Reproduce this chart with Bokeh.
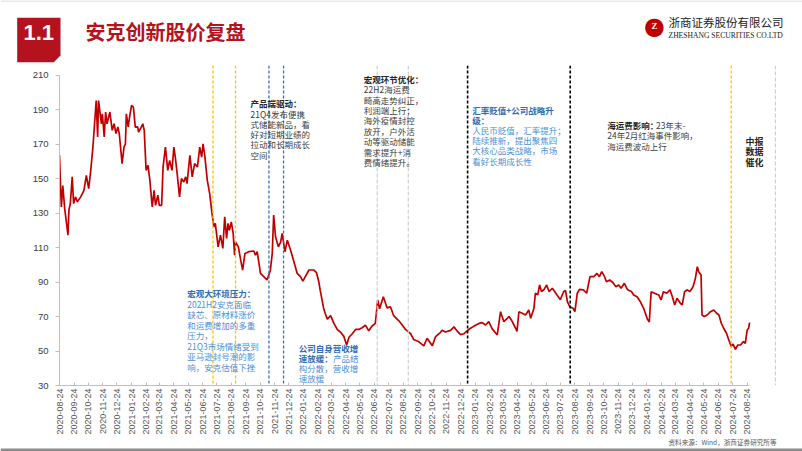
import math
import pandas as pd
from bokeh.plotting import figure
from bokeh.layouts import column, row
from bokeh.models import Span, Label, FixedTicker, DatetimeTickFormatter, Range1d
from bokeh.embed import file_html
from bokeh.resources import INLINE

# ---------------- data ----------------
dates = [
    "2020-08-24", "2020-08-26", "2020-08-28", "2020-08-31", "2020-09-04", "2020-09-11", "2020-09-13",
    "2020-09-16", "2020-09-20", "2020-09-23", "2020-09-27", "2020-10-01", "2020-10-08", "2020-10-15",
    "2020-10-20", "2020-10-25", "2020-10-29", "2020-11-03", "2020-11-06", "2020-11-10", "2020-11-13",
    "2020-11-15", "2020-11-21", "2020-11-23", "2020-11-27", "2020-11-30", "2020-12-03", "2020-12-09",
    "2020-12-14", "2020-12-18", "2020-12-22", "2020-12-26", "2020-12-29", "2021-01-04", "2021-01-08",
    "2021-01-11", "2021-01-13", "2021-01-17", "2021-01-20", "2021-01-24", "2021-01-28", "2021-02-01",
    "2021-02-06", "2021-02-08", "2021-02-12", "2021-02-17", "2021-02-20", "2021-02-24", "2021-02-28",
    "2021-03-04", "2021-03-09", "2021-03-13", "2021-03-16", "2021-03-21", "2021-03-24", "2021-03-29",
    "2021-04-01", "2021-04-06", "2021-04-11", "2021-04-15", "2021-04-20", "2021-04-24", "2021-04-27",
    "2021-05-01", "2021-05-06", "2021-05-10", "2021-05-15", "2021-05-19", "2021-05-22", "2021-05-28",
    "2021-06-02", "2021-06-07", "2021-06-13", "2021-06-18", "2021-06-22", "2021-06-25", "2021-06-29",
    "2021-07-04", "2021-07-09", "2021-07-14", "2021-07-18", "2021-07-21", "2021-07-27", "2021-08-01",
    "2021-08-06", "2021-08-10", "2021-08-14", "2021-08-17", "2021-08-20", "2021-08-24", "2021-08-28",
    "2021-08-31", "2021-09-02", "2021-09-08", "2021-09-13", "2021-09-17", "2021-09-22", "2021-09-30",
    "2021-10-11", "2021-10-14", "2021-10-18", "2021-10-25", "2021-11-01", "2021-11-08", "2021-11-15",
    "2021-11-19", "2021-11-22", "2021-11-26", "2021-12-02", "2021-12-07", "2021-12-10", "2021-12-16",
    "2021-12-21", "2021-12-28", "2022-01-04", "2022-01-11", "2022-01-18",
    "2022-01-23", "2022-02-05", "2022-02-15", "2022-02-21", "2022-02-26", "2022-03-01", "2022-03-08",
    "2022-03-12", "2022-03-16", "2022-03-23", "2022-03-30", "2022-04-06", "2022-04-13", "2022-04-20",
    "2022-04-26", "2022-05-01", "2022-05-08", "2022-05-15", "2022-05-22", "2022-05-29", "2022-06-05",
    "2022-06-12", "2022-06-19", "2022-06-26", "2022-07-01", "2022-07-05", "2022-07-13", "2022-07-21",
    "2022-07-28", "2022-08-04", "2022-08-15", "2022-08-22", "2022-08-29", "2022-09-09", "2022-09-16",
    "2022-09-26", "2022-10-07", "2022-10-14", "2022-10-25", "2022-11-01", "2022-11-11", "2022-11-15",
    "2022-11-22", "2022-12-03", "2022-12-10", "2022-12-17", "2022-12-24", "2022-12-31", "2023-01-07",
    "2023-01-14", "2023-01-21", "2023-02-01", "2023-02-08", "2023-02-15", "2023-02-22", "2023-03-01",
    "2023-03-12",
    "2023-03-19", "2023-03-26", "2023-04-06", "2023-04-11", "2023-04-20", "2023-04-23", "2023-04-27",
    "2023-05-04", "2023-05-11", "2023-05-18", "2023-05-22", "2023-05-29", "2023-06-01", "2023-06-06",
    "2023-06-10", "2023-06-14", "2023-06-19", "2023-06-25", "2023-06-30", "2023-07-07", "2023-07-12",
    "2023-07-17", "2023-07-24", "2023-07-31", "2023-08-04", "2023-08-08", "2023-08-13", "2023-08-20",
    "2023-08-24", "2023-08-29", "2023-09-03", "2023-09-11", "2023-09-18", "2023-09-25", "2023-10-03",
    "2023-10-10", "2023-10-15", "2023-10-20", "2023-10-26", "2023-10-30", "2023-11-06", "2023-11-13",
    "2023-11-19", "2023-11-25", "2023-11-30", "2023-12-07", "2023-12-14", "2023-12-22", "2023-12-27",
    "2024-01-03", "2024-01-10", "2024-01-17", "2024-01-25", "2024-01-29", "2024-02-02", "2024-02-09",
    "2024-02-18", "2024-02-23", "2024-02-28", "2024-03-06", "2024-03-13", "2024-03-18", "2024-03-23",
    "2024-03-28", "2024-04-04", "2024-04-08", "2024-04-13", "2024-04-19", "2024-04-24", "2024-05-01",
    "2024-05-06", "2024-05-10", "2024-05-13", "2024-05-18", "2024-05-20", "2024-05-25", "2024-05-31",
    "2024-06-07", "2024-06-14", "2024-06-20", "2024-06-25", "2024-06-30", "2024-07-05", "2024-07-11",
    "2024-07-16", "2024-07-21", "2024-07-25", "2024-07-30", "2024-08-04", "2024-08-10", "2024-08-16",
    "2024-08-20", "2024-08-24", "2024-08-27", "2024-08-29",
]
prices = [
    163.5, 147.0, 133.6, 146.0, 132.7, 117.2, 131.7,
    135.5, 151.0, 135.5, 139.4, 136.5, 139.4, 143.2,
    151.9, 144.2, 153.8, 168.3, 179.9, 195.3, 174.1,
    195.3, 181.8, 187.6, 174.1, 188.6, 181.8, 188.6,
    178.0, 181.8, 176.1, 180.0, 176.0, 158.7, 168.3,
    170.0, 187.6, 180.0, 186.0, 192.4, 191.5, 179.9,
    180.0, 177.0, 178.9, 181.8, 178.0, 154.8, 157.7,
    149.0, 133.6, 143.2, 134.5, 140.4, 134.5, 134.5,
    156.7, 168.3, 154.8, 160.6, 154.8, 168.3, 162.5,
    152.9, 139.4, 150.0, 148.1, 151.0, 147.1, 163.5,
    151.0, 158.7, 156.7, 168.3, 162.5, 170.2, 162.5,
    149.0, 141.4, 129.8, 122.0, 124.0, 110.4, 117.2,
    109.5, 127.8, 115.3, 124.0, 120.0, 124.9, 118.2,
    105.6, 113.3, 110.4, 102.7, 96.9, 106.6, 107.6,
    108.0, 105.6, 107.6, 95.0, 93.1, 91.2, 96.9,
    106.6, 128.8, 116.3, 110.4, 113.3, 118.2, 107.6,
    114.3, 108.5, 101.8, 95.0, 93.1,
    90.5, 97.0, 97.0, 95.5, 90.0, 85.0, 75.0,
    71.5, 68.5, 70.5, 66.0, 62.5, 61.0, 58.5,
    53.5, 58.0, 60.0, 62.5, 62.5, 63.5, 65.0,
    61.7, 64.5, 66.0, 79.6, 74.5, 81.5, 75.0,
    75.7, 70.5, 67.5, 65.1, 62.5, 60.0, 56.5,
    55.5, 53.0, 57.4, 53.0, 58.4, 60.7, 62.0,
    61.0, 62.0, 64.1, 61.5, 59.5, 60.0, 61.7,
    63.2, 64.3, 66.0, 66.5, 65.1, 67.0, 63.0,
    59.3,
    72.8, 67.0, 70.0, 68.0, 63.2, 61.3, 72.8,
    71.9, 70.9, 73.8, 69.0, 74.8, 83.5, 82.6,
    88.3, 84.5, 85.5, 88.3, 84.5, 86.4, 84.5,
    82.5, 79.8, 84.4, 85.2, 78.6, 75.7, 74.8,
    72.8, 83.5, 85.8, 85.5, 83.5, 93.1, 93.1,
    95.0, 93.1, 96.0, 93.1, 90.2, 91.2, 89.6,
    87.3, 88.3, 86.4, 89.3, 85.5, 84.5, 82.5,
    81.5, 78.6, 74.8, 68.5, 66.8, 84.4, 83.5,
    82.5, 79.6, 84.4, 83.5, 85.5, 81.5, 76.7,
    80.6, 77.7, 76.7, 84.4, 85.5, 84.4, 87.3,
    92.2, 98.9, 96.0, 94.1, 70.9, 70.0, 70.9,
    72.8, 73.8, 71.9, 70.9, 66.1, 63.2, 60.3,
    56.4, 52.6, 54.0, 51.0, 53.5, 53.5, 55.5,
    54.5, 62.2, 63.2, 66.5,
]
y_ticks = [30, 50, 70, 90, 110, 130, 150, 170, 190, 210]
tick_start = "2020-08-24"
tick_count = 49          # monthly ticks 2020-08-24 ... 2024-08-24
yellow_dates = ["2021-07-16", "2021-09-02", "2024-07-21"]
blue_dates = ["2021-11-12", "2021-12-13"]
gray_dates = ["2022-06-30", "2022-09-04", "2024-10-23"]
black_dates = ["2023-01-08", "2023-08-14"]


def ms(d):
    return pd.Timestamp(d).timestamp() * 1000.0


tick_dates = pd.date_range(tick_start, periods=tick_count, freq=pd.DateOffset(months=1))
tick_ms = [ms(d) for d in tick_dates]

CJK = "Noto Sans CJK SC"
DARK = "#262626"
BODY = "#404040"
BLUE_H = "#2E6DB4"
BLUE_T = "#4A90D9"
RED = "#B4121C"
AX = "#BFBFBF"
LAB = "#595959"


def bare(w, h):
    f = figure(width=w, height=h, x_range=Range1d(0, w), y_range=Range1d(h, 0),
               x_axis_location=None, y_axis_location=None,
               output_backend="svg", toolbar_location=None,
               min_border=0, min_border_left=0, min_border_right=0,
               min_border_top=0, min_border_bottom=0)
    f.outline_line_color = None
    f.xgrid.visible = False
    f.ygrid.visible = False
    return f


def lab(fig, x, y, text, size="8.5px", color=DARK, bold=False, align="left", font=CJK, dy=0):
    fig.add_layout(Label(x=x, y=y - dy, x_units="canvas", y_units="canvas", text=text,
                         text_font=font, text_font_size=size, text_color=color,
                         text_font_style="bold" if bold else "normal",
                         text_align=align, text_baseline="middle"))


# ---------------- header ----------------
TOTAL_W = 802
HEAD_H = 65
head = bare(TOTAL_W, HEAD_H)
head.patch(x=[16.7, 60, 60, 53.3, 16.7], y=[17.3, 17.3, 55, 61.7, 61.7],
           fill_color=RED, line_color=None)
head.line(x=[0, TOTAL_W], y=[0.5, 0.5], line_color="#D0D0D0", line_width=1)
lab(head, 38.3, 31.7, "1.1", size="22px", color="white", bold=True, align="center", font="Liberation Sans")
lab(head, 85, 31, "安克创新股价复盘", size="20px", color=RED, bold=True)
lab(head, 654, 25, "●", size="24px", color="#C00000", align="center", font="DejaVu Sans")
lab(head, 654, 25, "Z", size="9px", color="white", bold=True, align="center", font="Liberation Serif")
lab(head, 668, 21, "浙商证券股份有限公司", size="11.5px", color="#1A1A1A")
lab(head, 668, 35, "ZHESHANG SECURITIES CO.LTD", size="7.6px", color="#1A1A1A", font="Liberation Serif")

# ---------------- main chart ----------------
MAIN_W, MAIN_H = 776, 372
LEFT, TOP, BOTTOM = 59, 0, 51
frame_w = MAIN_W - LEFT
days_per_px = 2.1245
x_start = ms(tick_start)
x_end = x_start + frame_w * days_per_px * 86400000.0

p = figure(width=MAIN_W, height=MAIN_H, x_axis_type="datetime",
           x_range=Range1d(x_start, x_end), y_range=Range1d(30, 215.6),
           output_backend="svg", toolbar_location=None,
           min_border_left=LEFT, min_border_right=0,
           min_border_top=TOP, min_border_bottom=BOTTOM)
p.outline_line_color = None
p.xgrid.visible = False
p.ygrid.visible = False

p.xaxis.ticker = FixedTicker(ticks=tick_ms)
fmt = "%Y-%m-%d"
p.xaxis.formatter = DatetimeTickFormatter(days=fmt, months=fmt, years=fmt, hours=fmt,
                                          hourmin=fmt, minutes=fmt, minsec=fmt,
                                          seconds=fmt, milliseconds=fmt, microseconds=fmt)
p.xaxis.major_label_orientation = math.pi / 2
p.xaxis.bounds = (x_start, ms(dates[-1]))
p.xaxis.axis_line_color = AX
p.xaxis.major_tick_line_color = AX
p.xaxis.major_tick_in = 3
p.xaxis.major_tick_out = 0
p.xaxis.minor_tick_line_color = None
p.xaxis.major_label_standoff = 3
p.xaxis.major_label_text_font = "Liberation Sans"
p.xaxis.major_label_text_font_size = "9px"
p.xaxis.major_label_text_color = LAB

p.yaxis.ticker = FixedTicker(ticks=y_ticks)
p.yaxis.bounds = (30, 210)
p.yaxis.axis_line_color = AX
p.yaxis.major_tick_line_color = AX
p.yaxis.major_tick_in = 0
p.yaxis.major_tick_out = 4
p.yaxis.minor_tick_line_color = None
p.yaxis.major_label_standoff = 7
p.yaxis.major_label_text_font = "Liberation Sans"
p.yaxis.major_label_text_font_size = "9.5px"
p.yaxis.major_label_text_color = BODY

for d in yellow_dates:
    p.add_layout(Span(location=ms(d), dimension="height", line_color="#FFC000",
                      line_dash="3 2", line_width=1.3))
for d in blue_dates:
    p.add_layout(Span(location=ms(d), dimension="height", line_color="#2E75B6",
                      line_dash="3 2", line_width=1.3))
for d in gray_dates:
    p.add_layout(Span(location=ms(d), dimension="height", line_color="#D0CECE",
                      line_dash="4 2", line_width=1.2))
for d in black_dates:
    p.add_layout(Span(location=ms(d), dimension="height", line_color="#000000",
                      line_dash="3 2", line_width=1.6))

p.line(x=pd.to_datetime(dates), y=prices, line_color="#C00000", line_width=1.7)

OFF = HEAD_H  # reference y -> main canvas y


def block(x, y0, dy, lines, color, bold_first=1, heading_color=DARK):
    for i, t in enumerate(lines):
        b = i < bold_first
        lab(p, x, y0 + i * dy, t, color=heading_color if b else color, bold=b, dy=OFF)


block(250, 102.7, 10.3, ["产品端驱动：", "21Q4发布便携", "式储能新品，看", "好对短期业绩的",
                          "拉动和长期成长", "空间"], BODY)
block(363.3, 78.3, 10.4, ["宏观环节优化：", "22H2海运费", "畸高走势纠正，", "利润端上行；",
                           "海外疫情封控", "放开，户外活", "动等驱动储能", "需求提升+消",
                           "费情绪提升。"], BODY)
block(471.7, 109.0, 10.2, ["汇率贬值+公司战略升", "级：", "人民币贬值，汇率提升；",
                           "陆续推新，提出聚焦四", "大核心品类战略，市场", "看好长期成长性"],
      BLUE_T, bold_first=2, heading_color=BLUE_H)
lab(p, 606.7, 124.7, "海运费影响：", color=DARK, bold=True, dy=OFF)
lab(p, 655.5, 124.7, "23年末-", color=BODY, dy=OFF)
lab(p, 606.7, 134.9, "24年2月红海事件影响，", color=BODY, dy=OFF)
lab(p, 606.7, 145.1, "海运费波动上行", color=BODY, dy=OFF)
for i, t in enumerate(["中报", "数据", "催化"]):
    lab(p, 754, 141 + i * 10.3, t, size="9px", color=DARK, bold=True, align="center", dy=OFF)
block(186.7, 292.7, 10.5, ["宏观大环境压力：", "2021H2安克面临", "缺芯、原材料涨价",
                           "和运费增加的多重", "压力，", "21Q3市场情绪受到",
                           "亚马逊封号潮的影", "响，安克估值下挫"], BLUE_T, heading_color=BLUE_H)
lab(p, 298.3, 347.7, "公司自身营收增", color=BLUE_H, bold=True, dy=OFF)
lab(p, 298.3, 357.7, "速放缓：", color=BLUE_H, bold=True, dy=OFF)
lab(p, 332.5, 357.7, "产品结", color=BLUE_T, dy=OFF)
lab(p, 298.3, 367.7, "构分散，营收增", color=BLUE_T, dy=OFF)
lab(p, 298.3, 377.7, "速放缓", color=BLUE_T, dy=OFF)

# ---------------- right strip (page number) ----------------
strip = bare(TOTAL_W - MAIN_W, MAIN_H)
lab(strip, 780 - MAIN_W, 421 - OFF, "5", size="12px", color=BODY, align="center", font="Liberation Sans")

# ---------------- footer ----------------
FOOT_H = 451 - HEAD_H - MAIN_H
foot = bare(TOTAL_W, FOOT_H)
FOFF = HEAD_H + MAIN_H
foot.quad(left=[0], right=[TOTAL_W], top=[448 - FOFF], bottom=[451 - FOFF],
          fill_color="#8C8C8C", line_color=None)
lab(foot, 668, 441.5 - FOFF, "资料来源：Wind，浙商证券研究所等", size="6.6px", color=LAB)

layout = column(head, row(p, strip), foot)
open("out.html", "w").write(file_html(layout, INLINE))
